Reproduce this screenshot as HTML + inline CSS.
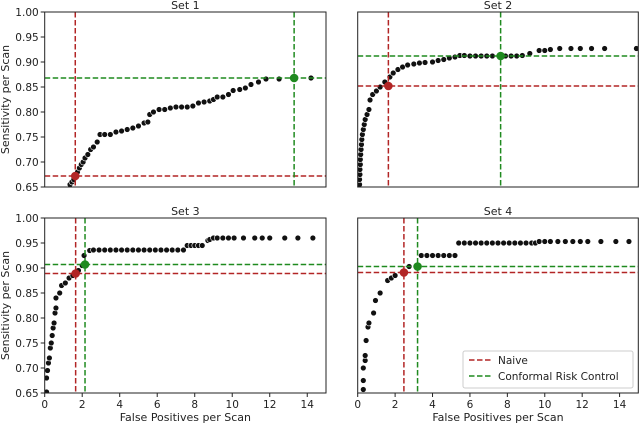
<!DOCTYPE html>
<html><head><meta charset="utf-8">
<style>
html,body{margin:0;padding:0;background:#fff;}
svg{display:block;font-family:"DejaVu Sans","Liberation Sans",sans-serif;}
</style></head>
<body>
<svg id="chart" width="640" height="425" viewBox="0 0 640 425" xmlns="http://www.w3.org/2000/svg"></svg>
<script>
const set1X=[1.35,1.45,1.55,1.65,1.75,1.85,1.95,2.05,2.15,2.3,2.45,2.6,2.8,2.95,3.2,3.5,3.8,4.1,4.4,4.7,5.0,5.3,5.5,5.6,5.8,6.1,6.4,6.7,7.0,7.3,7.6,7.9,8.2,8.5,8.8,9.0,9.2,9.5,9.8,10.05,10.4,10.7,11.0,11.4,11.8,12.5,14.2];
const set1Y=[0.655,0.66,0.665,0.672,0.68,0.688,0.695,0.70,0.708,0.715,0.725,0.73,0.74,0.755,0.755,0.755,0.76,0.762,0.765,0.768,0.772,0.778,0.78,0.795,0.80,0.805,0.805,0.808,0.81,0.81,0.81,0.812,0.818,0.82,0.822,0.825,0.83,0.83,0.835,0.843,0.845,0.848,0.855,0.86,0.866,0.866,0.868];
const set2X=[0.1,0.1,0.12,0.12,0.14,0.14,0.16,0.18,0.2,0.22,0.25,0.3,0.35,0.4,0.5,0.6,0.66,0.8,1.0,1.2,1.45,1.72,1.9,2.15,2.4,2.67,3.0,3.3,3.6,4.0,4.3,4.6,4.9,5.2,5.46,5.7,6.0,6.3,6.6,6.9,7.2,7.6,7.9,8.2,8.5,8.8,9.2,9.7,10.0,10.3,10.8,11.4,11.9,12.5,13.2,14.9];
const set2Y=[0.655,0.665,0.675,0.685,0.695,0.705,0.715,0.725,0.735,0.745,0.755,0.765,0.775,0.785,0.795,0.805,0.824,0.835,0.842,0.85,0.86,0.87,0.878,0.885,0.89,0.894,0.896,0.898,0.899,0.90,0.903,0.905,0.908,0.91,0.913,0.913,0.912,0.912,0.912,0.912,0.912,0.912,0.912,0.912,0.912,0.913,0.917,0.923,0.923,0.925,0.927,0.927,0.927,0.927,0.927,0.927];
const set3X=[0.1,0.1,0.15,0.2,0.25,0.3,0.35,0.4,0.45,0.5,0.55,0.6,0.6,0.8,0.9,1.1,1.3,1.5,1.8,2.0,2.1,2.4,2.6,2.9,3.2,3.5,3.8,4.1,4.4,4.7,5.0,5.3,5.6,5.9,6.2,6.5,6.8,7.1,7.4,7.6,7.8,8.0,8.2,8.4,8.7,8.8,9.0,9.2,9.5,9.8,10.1,10.6,11.2,11.6,12.0,12.8,13.5,14.3];
const set3Y=[0.652,0.68,0.695,0.71,0.72,0.74,0.75,0.765,0.78,0.79,0.81,0.82,0.84,0.85,0.865,0.87,0.88,0.885,0.895,0.905,0.925,0.935,0.936,0.936,0.936,0.936,0.936,0.936,0.936,0.936,0.936,0.936,0.936,0.936,0.936,0.936,0.936,0.936,0.936,0.945,0.945,0.945,0.945,0.945,0.955,0.957,0.96,0.96,0.96,0.96,0.96,0.96,0.96,0.96,0.96,0.96,0.96,0.96];
const set4X=[0.3,0.3,0.3,0.4,0.4,0.45,0.55,0.6,0.85,0.95,1.2,1.6,1.8,2.0,2.75,3.4,3.7,4.0,4.3,4.6,4.9,5.2,5.4,5.7,6.0,6.3,6.6,6.9,7.2,7.5,7.8,8.1,8.4,8.7,9.0,9.3,9.5,9.7,10.0,10.3,10.7,11.1,11.5,11.9,12.3,13.0,13.8,14.5];
const set4Y=[0.657,0.675,0.70,0.715,0.725,0.755,0.782,0.79,0.81,0.835,0.85,0.875,0.88,0.885,0.903,0.925,0.925,0.925,0.925,0.925,0.925,0.925,0.95,0.95,0.95,0.95,0.95,0.95,0.95,0.95,0.95,0.95,0.95,0.95,0.95,0.95,0.95,0.953,0.953,0.953,0.953,0.953,0.953,0.953,0.953,0.953,0.953,0.953];
const naiveX=[1.63,1.64,1.65,2.47];
const naiveY=[0.672,0.852,0.889,0.891];
const crcX=[13.3,7.64,2.15,3.2];
const crcY=[0.868,0.912,0.907,0.903];
const titles=["Set 1","Set 2","Set 3","Set 4"];
const yTicks=[0.65,0.70,0.75,0.80,0.85,0.90,0.95,1.00];
const xTicks=[0,2,4,6,8,10,12,14];

const NS="http://www.w3.org/2000/svg";
const svg=document.getElementById('chart');
function mk(tag,attrs,parent){const e=document.createElementNS(NS,tag);for(const k in attrs)e.setAttribute(k,attrs[k]);(parent||svg).appendChild(e);return e;}
const panels=[
 {l:44.7,r:326,t:12,b:187,xs:set1X,ys:set1Y,yt:true,xt:false},
 {l:357.7,r:638.3,t:12,b:187,xs:set2X,ys:set2Y,yt:false,xt:false},
 {l:44.7,r:326,t:218,b:393,xs:set3X,ys:set3Y,yt:true,xt:true},
 {l:357.7,r:638.3,t:218,b:393,xs:set4X,ys:set4Y,yt:false,xt:true}];
panels.forEach((p,i)=>{
  const sx=v=>p.l+(v/15)*(p.r-p.l);
  const sy=v=>p.b-(v-0.65)/0.35*(p.b-p.t);
  const g=mk('g',{});
  
  
  const cp=mk('clipPath',{id:'cp'+i},g);mk('rect',{x:p.l,y:p.t,width:p.r-p.l,height:p.b-p.t},cp);
  const pg=mk('g',{'clip-path':'url(#cp'+i+')'},g);
  const dots=mk('g',{},pg);
  
  
  p.xs.forEach((x,j)=>{
    const c=mk('circle',{cx:sx(x),cy:sy(p.ys[j]),r:2.9,fill:'#111',stroke:'#fff','stroke-width':0.6},dots);
    
    
  });
  const lines=[[naiveX[i],naiveY[i],'#b22525','naive'],[crcX[i],crcY[i],'#1f8a1f','crc']];
  lines.forEach(L=>{
    const v=mk('line',{x1:sx(L[0]),x2:sx(L[0]),y1:p.t,y2:p.b,stroke:L[2],'stroke-width':1.5,'stroke-dasharray':'5.5,2.5'},pg);
    
    
    const h=mk('line',{x1:p.l,x2:p.r,y1:sy(L[1]),y2:sy(L[1]),stroke:L[2],'stroke-width':1.5,'stroke-dasharray':'5.5,2.5'},pg);
    
    
    const m=mk('circle',{cx:sx(L[0]),cy:sy(L[1]),r:4.3,fill:L[2]},pg);
    
    
  });
  const fr=mk('rect',{x:p.l,y:p.t,width:p.r-p.l,height:p.b-p.t,fill:'none',stroke:'#222','stroke-width':1},g);
  
  
  const tt=mk('text',{x:(p.l+p.r)/2,y:p.t-3,'text-anchor':'middle','font-size':11,fill:'#222'},g);
  tt.textContent=titles[i];
  
  
  if(p.yt){
    yTicks.forEach(v=>{
      mk('line',{x1:p.l-4,x2:p.l,y1:sy(v),y2:sy(v),stroke:'#222'},g);
      const t=mk('text',{x:p.l-6,y:sy(v)+4,'text-anchor':'end','font-size':10.5,fill:'#222'},g);
      t.textContent=v.toFixed(2);
      
      
    });
    const yl=mk('text',{transform:`translate(9,${(p.t+p.b)/2}) rotate(-90)`,'text-anchor':'middle','font-size':11,fill:'#222'},g);
    yl.textContent='Sensitivity per Scan';
    
    
  }
  if(p.xt){
    xTicks.forEach(v=>{
      mk('line',{x1:sx(v),x2:sx(v),y1:p.b,y2:p.b+4,stroke:'#222'},g);
      const t=mk('text',{x:sx(v),y:p.b+15,'text-anchor':'middle','font-size':10.5,fill:'#222'},g);
      t.textContent=v;
      
      
    });
    const xl=mk('text',{x:(p.l+p.r)/2,y:p.b+28,'text-anchor':'middle','font-size':11,fill:'#222'},g);
    xl.textContent='False Positives per Scan';
    
    
  }
});
const lg=mk('g',{});


mk('rect',{x:463,y:351,width:170,height:37,rx:2,fill:'#fff',stroke:'#ccc','stroke-width':1},lg);
[['Naive','#b22525',364],['Conformal Risk Control','#1f8a1f',380]].forEach(e=>{
  mk('line',{x1:469,x2:492,y1:e[2]-4,y2:e[2]-4,stroke:e[1],'stroke-width':1.5,'stroke-dasharray':'5.5,2.5'},lg);
  const t=mk('text',{x:498,y:e[2],'font-size':10.5,fill:'#222'},lg);
  t.textContent=e[0];
  
  
});
</script>
</body></html>
